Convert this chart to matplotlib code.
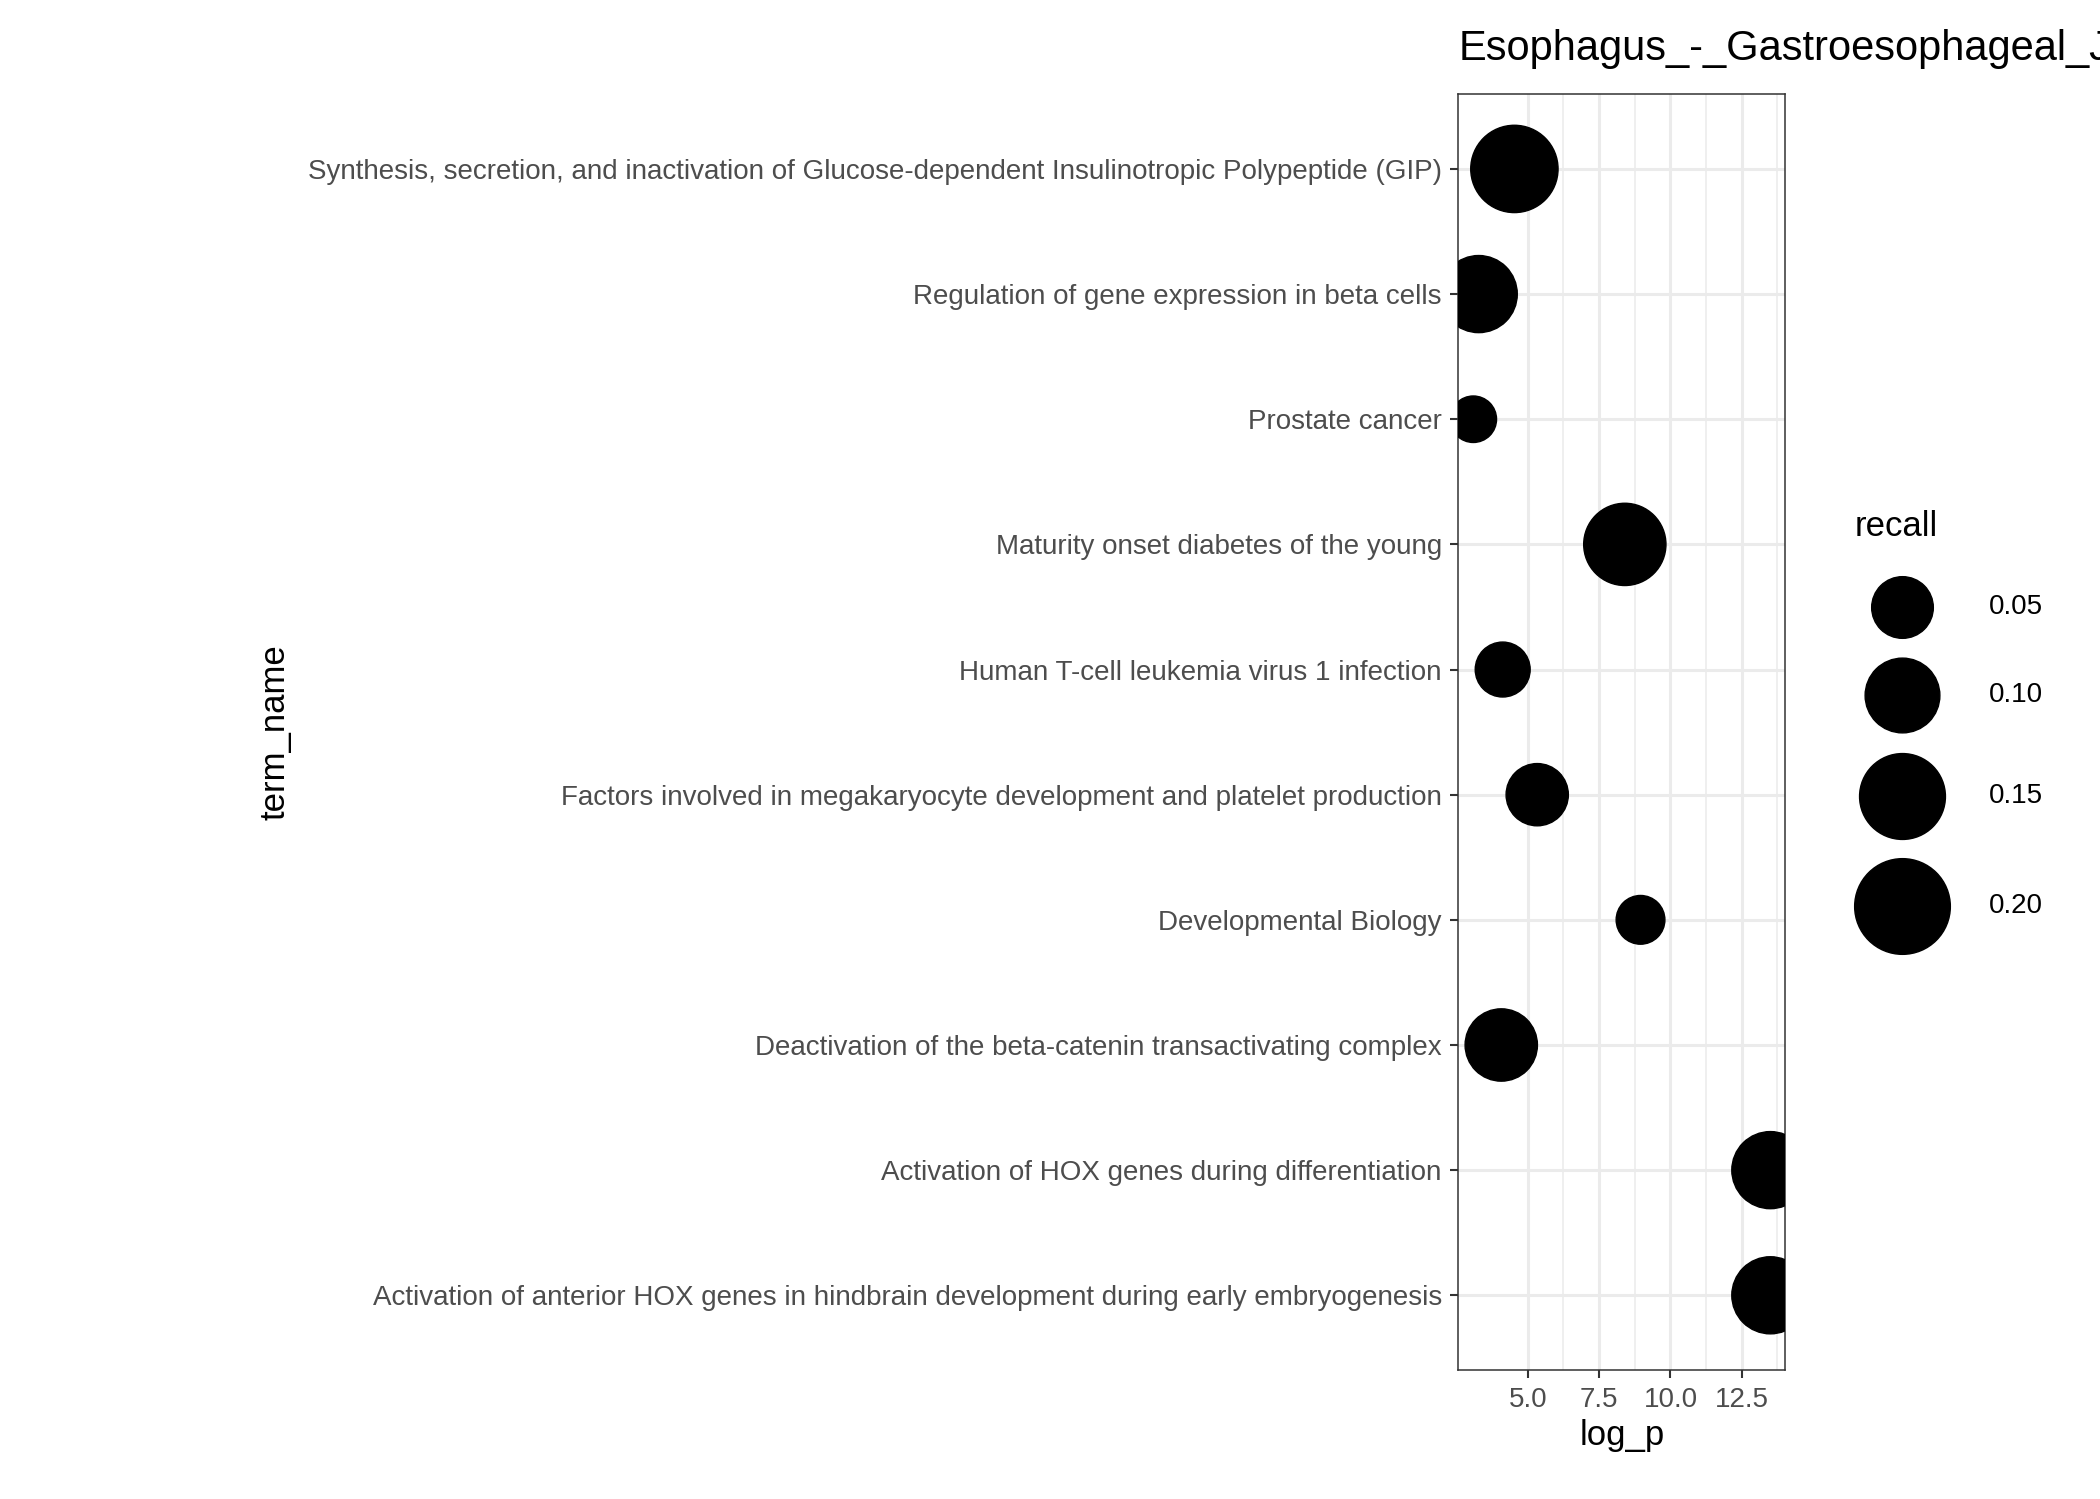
import matplotlib
matplotlib.use('Agg')
import matplotlib.pyplot as plt

terms = [
    "Synthesis, secretion, and inactivation of Glucose-dependent Insulinotropic Polypeptide (GIP)",
    "Regulation of gene expression in beta cells",
    "Prostate cancer",
    "Maturity onset diabetes of the young",
    "Human T-cell leukemia virus 1 infection",
    "Factors involved in megakaryocyte development and platelet production",
    "Developmental Biology",
    "Deactivation of the beta-catenin transactivating complex",
    "Activation of HOX genes during differentiation",
    "Activation of anterior HOX genes in hindbrain development during early embryogenesis",
]
log_p = [4.53, 3.28, 3.09, 8.4, 4.12, 5.33, 8.95, 4.07, 13.5, 13.5]
recall = [0.157, 0.11, 0.004, 0.133, 0.028, 0.052, 0.01, 0.09, 0.11, 0.11]
legend_vals = [0.05, 0.10, 0.15, 0.20]
x_ticks = [5.0, 7.5, 10.0, 12.5]

plt.rcParams['font.family'] = ['Liberation Sans', 'DejaVu Sans']

def size_of(r):
    # area grows linearly with recall; display px -> points^2
    d = (1300 + 23000 * r) ** 0.5 * 1.339 * 0.67
    return d ** 2

fig = plt.figure(figsize=(21, 14.99), dpi=100)
ax = fig.add_axes([0.6945, 0.0858, 0.1556, 0.8516])
n = len(terms)
ys = [n - 1 - i for i in range(n)]
ax.scatter(log_p, ys, s=[size_of(r) for r in recall], color='black', zorder=3, clip_on=True)

xmin, xmax = min(log_p), max(log_p)
pad = (xmax - xmin) * 0.05
ax.set_xlim(xmin - pad, xmax + pad)
ax.set_ylim(-0.6, n - 0.4)
ax.set_xticks(x_ticks)
ax.set_xticklabels([f"{t:.1f}" for t in x_ticks])
ax.set_xticks([6.25, 8.75, 11.25, 13.75], minor=True)
ax.set_yticks(ys)
ax.set_yticklabels(terms)
ax.grid(True, which='major', color='#ebebeb', lw=2.2, zorder=0)
ax.grid(True, which='minor', axis='x', color='#ebebeb', lw=1.1, zorder=0)
ax.tick_params(which='minor', length=0)
ax.tick_params(which='major', length=6, width=1.5, color='#333333', labelsize=20,
               labelcolor='#4d4d4d', pad=6)
for s in ax.spines.values():
    s.set_color('#333333')
    s.set_linewidth(1.1)
ax.set_xlabel('log_p', fontsize=25, labelpad=4)
ax.set_ylabel('term_name', fontsize=25, labelpad=12)
fig.text(0.6945, 0.954, 'Esophagus_-_Gastroesophageal_Junction', fontsize=30, va='bottom', ha='left')

# size legend
fig.text(1385 / 1568, 1 - 393 / 1119, 'recall', fontsize=25, va='center', ha='left')
lax = fig.add_axes([0.86, 0.3, 0.14, 0.33])
lax.set_xlim(0, 1)
lax.set_ylim(0, 1)
lax.axis('off')
leg_y = [453, 519, 594, 676]
for v, yy in zip(legend_vals, leg_y):
    fy = 1 - yy / 1119
    ly = (fy - 0.3) / 0.33
    lx = (1420 / 1568 - 0.86) / 0.14
    lax.scatter([lx], [ly], s=size_of(v), color='black', clip_on=False)
    lax.text((1485 / 1568 - 0.86) / 0.14, ly, f"{v:.2f}", fontsize=20, va='center', ha='left')

fig.savefig('out.png', dpi=100)
